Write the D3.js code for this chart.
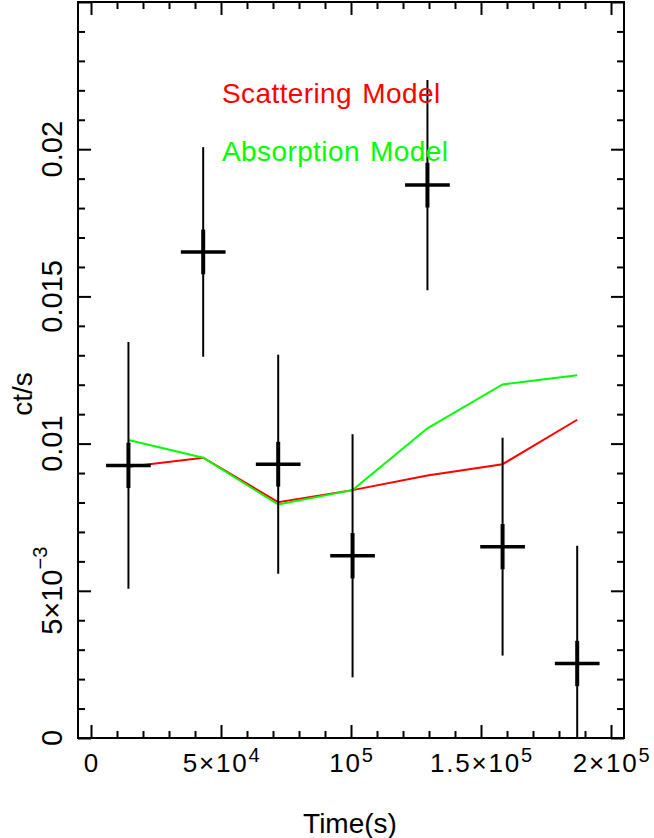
<!DOCTYPE html>
<html>
<head>
<meta charset="utf-8">
<script src="https://cdn.jsdelivr.net/npm/d3@7"></script>
<style>
    body { margin: 0; background: #fff; }
    text { font-family: "Liberation Sans", Arial, sans-serif; }
</style>
</head>
<body>
<div id="chart"></div>
<script>
'use strict';

// light curve bins
const time = [14400, 43150, 72000, 100600, 129400, 158300, 187000];
const timeErr = [8600, 8600, 8600, 8600, 8600, 8600, 8600];
const rate = [0.00926, 0.01651, 0.0093, 0.00619, 0.01878, 0.0065, 0.00253];
const rateErr = [0.00419, 0.00356, 0.00372, 0.00413, 0.00357, 0.0037, 0.0040];
const rateErrInner = [0.00077, 0.00076, 0.00076, 0.00077, 0.00076, 0.00077, 0.00077];

// model curves at the bin times
const scattering = [0.00921, 0.00952, 0.00801, 0.00842, 0.00892, 0.0093, 0.01081];
const absorption = [0.01012, 0.00952, 0.00793, 0.00842, 0.01052, 0.01201, 0.01232];

// tick labels: [value, mantissa text, exponent text]
const xTickLabels = [[0, "0", ""], [50000, "5×10", "4"], [100000, "10", "5"], [150000, "1.5×10", "5"], [200000, "2×10", "5"]];
const yTickLabels = [[0, "0", ""], [0.005, "5×10", "−3"], [0.01, "0.01", ""], [0.015, "0.015", ""], [0.02, "0.02", ""]];

const legendItems = [["Scattering Model", "#ff0000"], ["Absorption Model", "#00ff00"]];

const W = 654, H = 838;
const plotLeft = 78, plotRight = 624, plotTop = 2, plotBottom = 738;

const svg = d3.select("#chart").append("svg")
    .attr("width", W)
    .attr("height", H);

const x = d3.scaleLinear().domain([-5000, 205000]).range([plotLeft, plotRight]);
const y = d3.scaleLinear().domain([0, 0.025]).range([plotBottom, plotTop]);

const xMajor = [0, 50000, 100000, 150000, 200000];
const xMinor = d3.range(10000, 205000, 10000).filter(v => v % 50000 !== 0);
const yMajor = [0, 0.005, 0.01, 0.015, 0.02, 0.025];
const yMinor = d3.range(1, 25).filter(i => i % 5 !== 0).map(i => i * 0.001);

// inward ticks on all four sides
const drawTicks = (axis, tx, ty, vals, len) => {
    svg.append("g")
        .attr("transform", "translate(" + tx + "," + ty + ")")
        .call(axis.tickValues(vals).tickSize(len).tickFormat(""))
        .call(g => g.select(".domain").remove())
        .call(g => g.selectAll("line").attr("stroke", "#000").attr("stroke-width", 2));
}
drawTicks(d3.axisBottom(x), 0, plotBottom, xMajor, -13);
drawTicks(d3.axisBottom(x), 0, plotBottom, xMinor, -7);
drawTicks(d3.axisTop(x), 0, plotTop, xMajor, -13);
drawTicks(d3.axisTop(x), 0, plotTop, xMinor, -7);
drawTicks(d3.axisLeft(y), plotLeft, 0, yMajor, -13);
drawTicks(d3.axisLeft(y), plotLeft, 0, yMinor, -7);
drawTicks(d3.axisRight(y), plotRight, 0, yMajor, -13);
drawTicks(d3.axisRight(y), plotRight, 0, yMinor, -7);

// frame
svg.append("rect")
    .attr("x", plotLeft).attr("y", plotTop)
    .attr("width", plotRight - plotLeft).attr("height", plotBottom - plotTop)
    .attr("fill", "none").attr("stroke", "#000").attr("stroke-width", 2);

// x tick labels
xTickLabels.forEach(([v, m, e]) => {
    const t = svg.append("text")
        .attr("x", x(v) + 1).attr("y", 772)
        .attr("text-anchor", "middle")
        .attr("font-size", 26)
        .attr("letter-spacing", 1.8)
        .text(m);
    if (e) t.append("tspan").attr("dy", -10).attr("font-size", 20).text(e);
});

// y tick labels (rotated)
yTickLabels.forEach(([v, m, e]) => {
    const t = svg.append("text")
        .attr("transform", "translate(62," + y(v) + ") rotate(-90)")
        .attr("text-anchor", "middle")
        .attr("font-size", 29)
        .text(m);
    if (e) t.append("tspan").attr("dy", -15).attr("font-size", 20).text(e);
});

// axis titles
svg.append("text")
    .attr("x", 350).attr("y", 833)
    .attr("text-anchor", "middle")
    .attr("font-size", 28)
    .text("Time(s)");

svg.append("text")
    .attr("transform", "translate(32,394) rotate(-90)")
    .attr("text-anchor", "middle")
    .attr("font-size", 28)
    .text("ct/s");

svg.append("clipPath").attr("id", "plotClip")
    .append("rect")
    .attr("x", plotLeft).attr("y", plotTop)
    .attr("width", plotRight - plotLeft).attr("height", plotBottom - plotTop);

const plot = svg.append("g").attr("clip-path", "url(#plotClip)");

// model curves
const line = d3.line().x((d, i) => x(time[i])).y(d => y(d));
plot.append("path").datum(scattering)
    .attr("d", line).attr("fill", "none")
    .attr("stroke", "#ff0000").attr("stroke-width", 2);
plot.append("path").datum(absorption)
    .attr("d", line).attr("fill", "none")
    .attr("stroke", "#00ff00").attr("stroke-width", 2);

// data points with error bars
const pts = plot.selectAll(".pt")
    .data(time.map((t, i) => ({ t: t, te: timeErr[i], r: rate[i], re: rateErr[i], ri: rateErrInner[i] })))
    .enter().append("g").attr("class", "pt");

pts.append("line")
    .attr("x1", d => x(d.t)).attr("x2", d => x(d.t))
    .attr("y1", d => y(d.r - d.re)).attr("y2", d => y(d.r + d.re))
    .attr("stroke", "#000").attr("stroke-width", 2);
pts.append("line")
    .attr("x1", d => x(d.t)).attr("x2", d => x(d.t))
    .attr("y1", d => y(d.r - d.ri)).attr("y2", d => y(d.r + d.ri))
    .attr("stroke", "#000").attr("stroke-width", 4);
pts.append("line")
    .attr("x1", d => x(d.t - d.te)).attr("x2", d => x(d.t + d.te))
    .attr("y1", d => y(d.r)).attr("y2", d => y(d.r))
    .attr("stroke", "#000").attr("stroke-width", 3.5);

// legend labels
svg.selectAll(".legend")
    .data(legendItems)
    .enter().append("text")
    .attr("class", "legend")
    .attr("x", 222).attr("y", (d, i) => 103 + i * 57.5)
    .attr("font-size", 28)
    .attr("letter-spacing", 0.4)
    .attr("word-spacing", 2)
    .attr("fill", d => d[1])
    .text(d => d[0]);
</script>
</body>
</html>
